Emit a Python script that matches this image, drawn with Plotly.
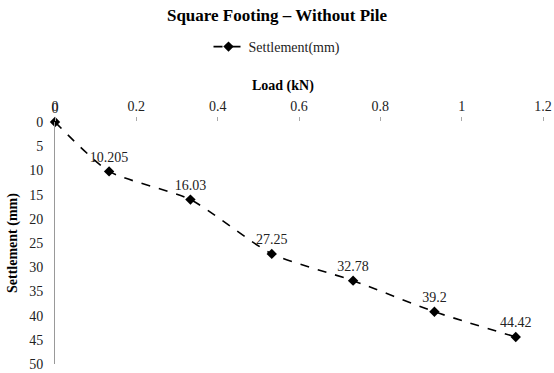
import plotly.graph_objects as go

load_kn = [0, 0.133, 0.333, 0.533, 0.733, 0.933, 1.133]
settlement_mm = [0, 10.205, 16.03, 27.25, 32.78, 39.2, 44.42]
point_labels = ["0", "10.205", "16.03", "27.25", "32.78", "39.2", "44.42"]
x_ticks = [0, 0.2, 0.4, 0.6, 0.8, 1.0, 1.2]
x_tick_text = ["0", "0.2", "0.4", "0.6", "0.8", "1", "1.2"]
y_ticks = [0, 5, 10, 15, 20, 25, 30, 35, 40, 45, 50]

FONT = "Times New Roman, Liberation Serif, serif"
L, R = 55, 11
PW = 554 - L - R

fig = go.Figure()
fig.add_trace(go.Scatter(
    x=load_kn, y=settlement_mm,
    mode="lines+markers+text",
    name="Settlement(mm)",
    text=point_labels,
    textposition="top center",
    textfont=dict(family=FONT, size=14, color="#222"),
    line=dict(color="black", width=1.6, dash="dash", shape="spline", smoothing=0.6),
    marker=dict(symbol="diamond", size=8, color="black"),
    cliponaxis=False,
))

fig.update_layout(
    width=554, height=373,
    margin=dict(l=L, r=R, t=122, b=9, autoexpand=False),
    paper_bgcolor="white", plot_bgcolor="white",
    font=dict(family=FONT, size=14, color="#222"),
    title=dict(text="<b>Square Footing – Without Pile</b>",
               font=dict(family=FONT, size=17, color="black"),
               x=0.5, xanchor="center", xref="container",
               y=1 - 15 / 373, yanchor="middle", yref="container"),
    showlegend=True,
    legend=dict(orientation="h", x=0.5, xanchor="center", xref="container",
                y=1 - 47 / 373, yanchor="middle", yref="container",
                font=dict(family=FONT, size=14, color="#222"),
                bgcolor="rgba(0,0,0,0)"),
    xaxis=dict(side="top", range=[0, 1.2], tickvals=x_ticks, ticktext=x_tick_text,
               showgrid=False, zeroline=False, showline=False, automargin=False,
               ticklabeloverflow="allow",
               ticks="outside", ticklen=4, tickcolor="#aaaaaa",
               tickfont=dict(family=FONT, size=14, color="#222")),
    yaxis=dict(range=[50, 0], tickvals=y_ticks, automargin=False,
               ticklabeloverflow="allow",
               showgrid=False, zeroline=False, showline=True, linecolor="#999999", linewidth=1,
               ticks="outside", ticklen=8, tickcolor="rgba(0,0,0,0)",
               tickfont=dict(family=FONT, size=14, color="#222")),
    annotations=[
        dict(text="<b>Load (kN)</b>", xref="paper", yref="paper",
             x=(283 - L) / PW, y=(364 - 86) / 242,
             xanchor="center", yanchor="middle", showarrow=False,
             font=dict(family=FONT, size=14, color="black")),
        dict(text="<b>Settlement (mm)</b>", xref="paper", yref="paper",
             x=-(L - 13) / PW, y=0.5, textangle=-90,
             xanchor="center", yanchor="middle", showarrow=False,
             font=dict(family=FONT, size=14, color="black")),
    ],
)

fig.write_html("out.html", config={"displayModeBar": False},
               post_script="document.body.style.margin='0';document.body.style.overflow='hidden';")
